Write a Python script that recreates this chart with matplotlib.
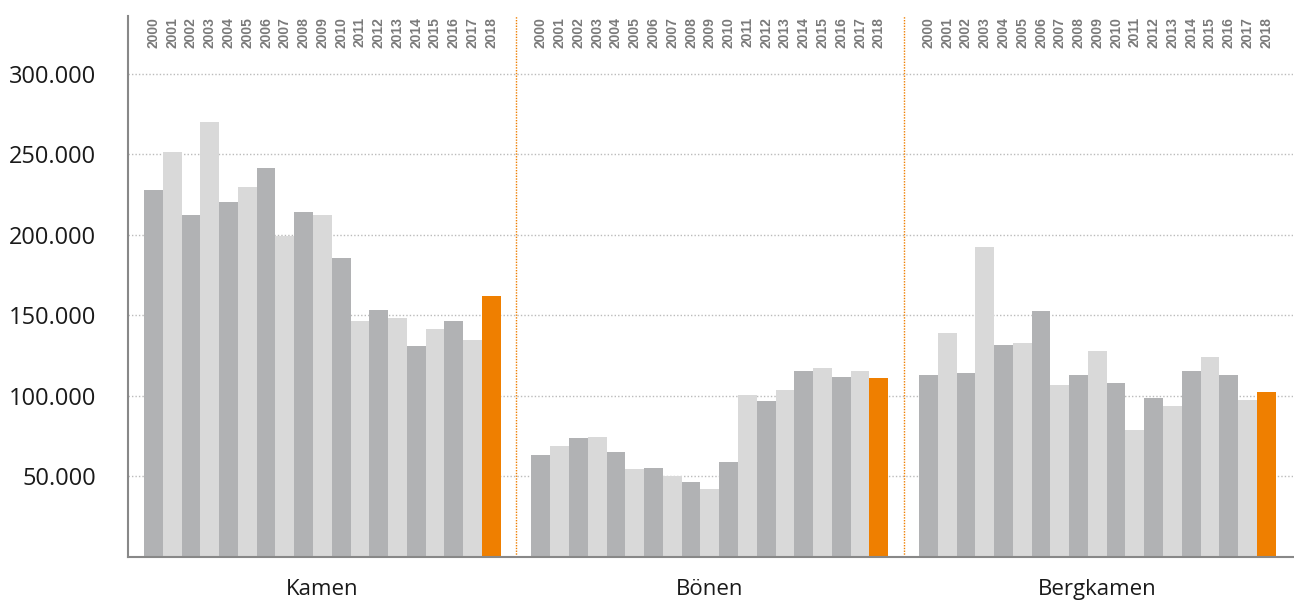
import numpy as np
import matplotlib.pyplot as plt
from matplotlib.transforms import blended_transform_factory

# Daten
years = [str(y) for y in range(2000, 2019)]
towns = ['Kamen', 'Bönen', 'Bergkamen']

kamen = [228100, 251700, 212500, 270300, 220600, 229900, 241700, 199500, 214400, 212500,
         185800, 146700, 153500, 148600, 131200, 141700, 146700, 134900, 162200]
boenen = [63200, 68800, 73800, 74400, 65100, 54500, 55100, 50200, 46400, 42100,
          58800, 100700, 97000, 103800, 115700, 117500, 111900, 115700, 111300]
bergkamen = [113200, 139300, 114400, 192700, 131800, 133000, 152900, 107000, 113200, 128100,
             108200, 79000, 98900, 93900, 115700, 124400, 113200, 97700, 102600]

yticks = [50000, 100000, 150000, 200000, 250000, 300000]
ytick_labels = ['50.000', '100.000', '150.000', '200.000', '250.000', '300.000']

dark = '#b1b2b4'
light = '#d9d9d9'
orange = '#ef7f00'

group_step = 20.64

fig = plt.figure(figsize=(12.94, 6.03), dpi=100)
ax = fig.add_axes([0.0989, 0.0763, 0.9003, 0.8972])

trans = blended_transform_factory(ax.transData, ax.transAxes)

for g, vals in enumerate([kamen, boenen, bergkamen]):
    x = g * group_step + np.arange(len(years))
    colors = [dark if i % 2 == 0 else light for i in range(len(years))]
    colors[-1] = orange
    ax.bar(x, vals, width=1.0, align='edge', color=colors, zorder=2)
    for i, yr in enumerate(years):
        ax.text(x[i] + 0.5, 0.998, yr, rotation=90, ha='center', va='top',
                transform=trans, fontsize=10, fontweight='bold', color='#7a7a7a',
                family='Liberation Sans')
    ax.text(g * group_step + len(years) / 2, -0.06, towns[g], ha='center', va='center',
            transform=trans, fontsize=16, color='#1a1a1a', family='Open Sans')
    if g > 0:
        ax.axvline(g * group_step - (group_step - len(years)) / 2, color=orange,
                   linestyle=(0, (1, 1)), linewidth=1, zorder=1)

ax.set_xlim(-0.853, 61.2)
ax.set_ylim(0, 336000)
ax.set_xticks([])
ax.set_yticks(yticks)
ax.set_yticklabels(ytick_labels, fontsize=17, family='Open Sans', color='#1a1a1a')
ax.tick_params(axis='y', length=0, pad=23)
ax.yaxis.grid(True, color='#bbbbbb', linestyle=(0, (1, 1.5)), linewidth=1, zorder=0)
ax.set_axisbelow(True)

for s in ['top', 'right']:
    ax.spines[s].set_visible(False)
for s in ['left', 'bottom']:
    ax.spines[s].set_color('#888888')
    ax.spines[s].set_linewidth(1.5)

fig.savefig('out.png', dpi=100)
